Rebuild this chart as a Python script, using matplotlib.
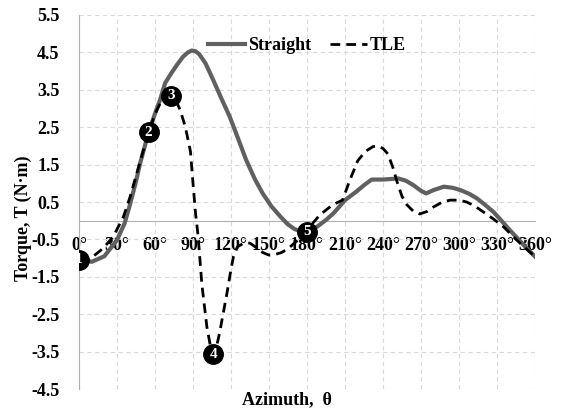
import matplotlib
matplotlib.use('Agg')
import matplotlib.pyplot as plt

plt.rcParams['font.family'] = ['Liberation Serif', 'DejaVu Serif']
plt.rcParams['font.weight'] = 'bold'

# Straight blade torque vs azimuth
straight_theta = [0, 10, 20, 30, 36, 40, 45, 48, 55, 61, 64, 68, 73, 77, 82, 86, 89, 92, 95, 100, 106, 112,
                  119, 125, 132, 139, 145, 152, 159, 165, 170, 177, 180, 188, 195, 201, 210, 219, 225,
                  231, 240, 252, 258, 264, 270, 274, 280, 288, 295, 301, 308, 314, 320, 327, 333, 340,
                  347, 353, 360]
straight_T = [-1.0, -1.1, -0.95, -0.52, -0.07, 0.4, 1.05, 1.5, 2.37, 2.96, 3.23, 3.68, 3.95, 4.15,
              4.38, 4.5, 4.55, 4.53, 4.45, 4.2, 3.76, 3.3, 2.78, 2.25, 1.62, 1.1, 0.73, 0.38, 0.11, -0.1, -0.22,
              -0.32, -0.3, -0.16, 0.02, 0.2, 0.55, 0.78, 0.95, 1.1, 1.1, 1.13, 1.07, 0.95, 0.8, 0.73,
              0.82, 0.91, 0.88, 0.82, 0.72, 0.6, 0.44, 0.24, 0.02, -0.25, -0.5, -0.72, -0.96]

# TLE blade torque vs azimuth
tle_theta = [0, 5, 11, 19, 27, 35, 40, 48, 55, 60, 65, 70, 73, 76, 80, 84, 88, 90, 92, 94, 97, 101,
             104, 106, 108, 111, 114, 117, 120, 122, 125, 130, 135, 140, 145, 150, 155, 160, 165, 170,
             175, 180, 185, 190, 200, 208, 214, 220, 226, 232, 236, 240, 244, 248, 251, 255, 259, 264,
             269, 275, 280, 287, 293, 300, 306, 312, 319, 327, 335, 345, 352, 360]
tle_T = [-1.02, -1.0, -0.96, -0.74, -0.43, 0.1, 0.6, 1.55, 2.37, 2.85, 3.2, 3.35, 3.34, 3.25, 2.95,
         2.5, 1.85, 1.0, 0.2, -0.4, -1.7, -2.85, -3.4, -3.57, -3.45, -3.0, -2.45, -1.9, -1.3, -0.95,
         -0.7, -0.6, -0.6, -0.72, -0.85, -0.92, -0.9, -0.85, -0.75, -0.6, -0.45, -0.29, -0.05, 0.15,
         0.42, 0.55, 1.1, 1.6, 1.85, 1.98, 2.0, 1.93, 1.78, 1.4, 1.05, 0.65, 0.42, 0.25, 0.18, 0.25,
         0.37, 0.5, 0.55, 0.55, 0.5, 0.4, 0.24, 0.05, -0.16, -0.5, -0.72, -0.96]

# numbered points on TLE curve
mark_theta = [0, 55, 73, 106, 180]
mark_T = [-1.05, 2.37, 3.34, -3.57, -0.29]
mark_lbl = ['1', '2', '3', '4', '5']

xticks = list(range(0, 361, 30))
xtick_labels = [f'{t}\u00b0' for t in xticks]
yticks = [-4.5, -3.5, -2.5, -1.5, -0.5, 0.5, 1.5, 2.5, 3.5, 4.5, 5.5]

fig = plt.figure(figsize=(5.61, 4.12), dpi=100)
ax = fig.add_axes([0.1408, 0.0558, 0.8129, 0.9078])

ax.plot(straight_theta, straight_T, color='#606060', lw=3.0, label='Straight', zorder=3)
ax.plot(tle_theta, tle_T, color='black', lw=2.0, ls=(0, (3.5, 2.2)), label='TLE', zorder=4)

ax.plot(mark_theta, mark_T, 'o', ms=14, color='black', zorder=5)
for t, v, s in zip(mark_theta, mark_T, mark_lbl):
    ax.text(t, v, s, color='white', fontsize=11, fontweight='bold', ha='center', va='center', zorder=6)

ax.set_xlim(0, 360)
ax.set_ylim(-4.5, 5.5)
ax.set_xticks(xticks)
ax.set_xticklabels(xtick_labels)
ax.set_yticks(yticks)
ax.set_yticklabels([f'{v:.1f}' for v in yticks])
ax.tick_params(axis='both', length=0, labelsize=13)
ax.tick_params(axis='x', pad=12)
ax.tick_params(axis='y', pad=14)

ax.grid(True, color='#d9d9d9', ls=(0, (4, 3)), lw=0.8)
ax.set_axisbelow(True)
ax.spines['top'].set_visible(False)
ax.spines['right'].set_visible(False)
ax.spines['bottom'].set_position(('data', 0))
ax.spines['bottom'].set_color('#b0b0b0')
ax.spines['left'].set_color('#b0b0b0')

ax.set_xlabel('Azimuth,  \u03b8', fontsize=13, fontweight='bold', va='center')
ax.xaxis.set_label_coords(0.455, -0.029)
ax.set_ylabel('Torque, T (N\u00b7m)', fontsize=13, fontweight='bold', va='center')
ax.yaxis.set_label_coords(-0.123, 0.457)

ax.legend(loc='upper center', bbox_to_anchor=(0.5, 0.985), ncol=2, frameon=False,
          fontsize=13, handlelength=2.05, columnspacing=1.0, handletextpad=0.2)

fig.savefig('out.png', dpi=100)
